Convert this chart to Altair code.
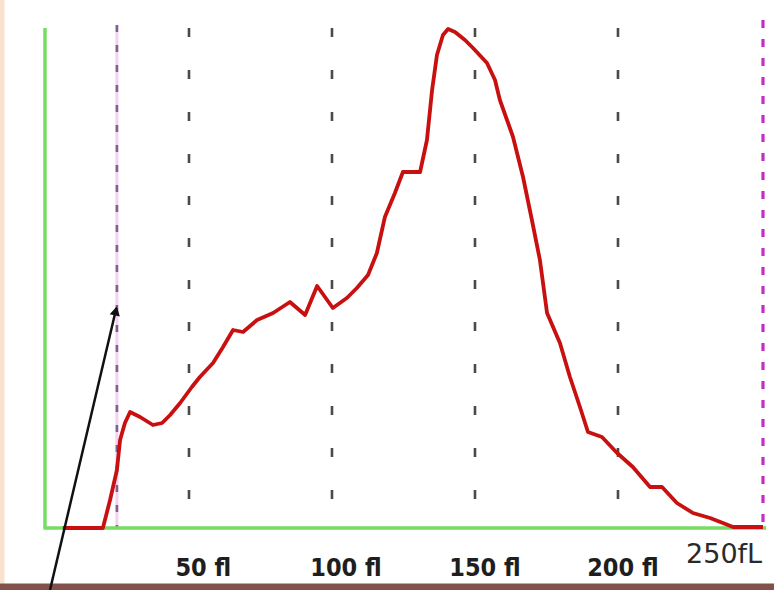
import altair as alt
import pandas as pd

# Histogram curve (volume in fL, relative count 0-100)
vol = [5.9, 19.9, 22.4, 24.8, 25.9, 27.6, 29.4, 32.9, 37.4, 40.6, 43.4, 46.9, 51.0, 53.8,
       58.4, 61.9, 65.4, 68.9, 73.8, 79.4, 85.3, 90.6, 94.8, 100.3, 105.2, 108.7, 112.6,
       115.7, 118.5, 122.0, 124.8, 130.8, 133.2, 135.0, 136.7, 138.8, 140.6, 143.0, 146.5,
       149.3, 154.2, 157.0, 158.7, 161.2, 163.3, 166.8, 169.9, 172.7, 175.2, 179.7, 183.2,
       186.7, 189.5, 194.4, 199.7, 205.2, 211.2, 215.4, 220.6, 226.2, 232.2, 236.7, 240.2, 250.7]
count = [0, 0, 5.6, 11.6, 17.6, 21, 23.2, 22.2, 20.6, 21, 22.6, 25, 28.2, 30.2,
         33, 36.2, 39.6, 39.2, 41.6, 43, 45.2, 42.6, 48.4, 44, 46, 48, 50.6,
         55, 62.2, 67, 71.2, 71.2, 77.6, 87.6, 94.6, 98.6, 99.8, 99.2, 97.6,
         96, 93, 89.6, 85.6, 81.6, 78.2, 70.2, 61.6, 53.6, 43, 37, 30.2,
         24.2, 19.2, 18.2, 15, 12.2, 8.2, 8.2, 5, 3, 2, 1, 0.2, 0.2]

grid_vals = [50, 100, 150, 200]
tick_labels = ["50 fl", "100 fl", "150 fl", "200 fl"]
tick_label_pos = [55.0, 104.9, 153.5, 201.7]
end_label = "250fL"
discriminators = [24.8, 250.7]

XD = [-16.08, 254.55]
YD = [-12.4, 105.6]
xs = alt.Scale(domain=XD, nice=False, zero=False)
ys = alt.Scale(domain=YD, nice=False, zero=False)

def X(f="x", **kw):
    return alt.X(f, type="quantitative", scale=xs, axis=None, **kw)

def Y(f="y", **kw):
    return alt.Y(f, type="quantitative", scale=ys, axis=None, **kw)

curve = pd.DataFrame({"x": vol, "y": count})

# background pieces
beige = alt.Chart(pd.DataFrame({"x": [XD[0]], "x2": [-14.5], "y": [YD[0]], "y2": [YD[1]]})).mark_rect(
    color="#f8e2cf").encode(x=X(), x2="x2", y=Y(), y2="y2")
brown = alt.Chart(pd.DataFrame({"x": [XD[0]], "x2": [XD[1]], "y": [YD[0]], "y2": [-11.1]})).mark_rect(
    color="#84504a").encode(x=X(), x2="x2", y=Y(), y2="y2")

grid = alt.Chart(pd.DataFrame({"x": grid_vals, "y": [100] * 4, "y2": [5.0] * 4})).mark_rule(
    color="#4a4a4a", strokeWidth=2.6, strokeDash=[9, 33]).encode(x=X(), y=Y(), y2="y2")

disc_df = pd.DataFrame({"x": discriminators, "y": [100.6, 101.6], "y2": [0.0, 1.0]})
left_bg = alt.Chart(disc_df.iloc[[0]]).mark_rule(color="#f5d0f2", strokeWidth=3).encode(
    x=X(), y=Y(), y2="y2")
left_d = alt.Chart(disc_df.iloc[[0]]).mark_rule(color="#7d6290", strokeWidth=2.6, strokeDash=[7, 13]).encode(
    x=X(), y=Y(), y2="y2")
right_d = alt.Chart(disc_df.iloc[[1]]).mark_rule(color="#c62cc6", strokeWidth=3.2, strokeDash=[8, 11]).encode(
    x=X(), y=Y(), y2="y2")

green_y = alt.Chart(pd.DataFrame({"x": [-0.35], "y": [100.0], "y2": [0.0]})).mark_rule(
    color="#74dd62", strokeWidth=3.5).encode(x=X(), y=Y(), y2="y2")
green_x = alt.Chart(pd.DataFrame({"x": [-0.9], "x2": [251.8], "y": [0.0]})).mark_rule(
    color="#74dd62", strokeWidth=3.5).encode(x=X(), x2="x2", y=Y())

line = alt.Chart(curve).mark_line(color="#c81010", strokeWidth=3.8, strokeJoin="round").encode(
    x=X(), y=Y(), order=alt.Order("x:Q"))

labels = alt.Chart(pd.DataFrame({"x": tick_label_pos, "y": [-9.5] * 4, "t": tick_labels})).mark_text(
    font="Liberation Sans Narrow, DejaVu Sans Condensed, sans-serif", fontWeight="bold", fontSize=25,
    color="#1e1e1e", align="center", baseline="alphabetic").encode(x=X(), y=Y(), text="t:N")
end_lab = alt.Chart(pd.DataFrame({"x": [237.1], "y": [-7.0], "t": [end_label]})).mark_text(
    font="DejaVu Sans, sans-serif", fontSize=27, color="#2a2a2a", align="center",
    baseline="alphabetic").encode(x=X(), y=Y(), text="t:N")

arrow = alt.Chart(pd.DataFrame({"x": [1.4], "x2": [24.6], "y": [-12.4], "y2": [44.0]})).mark_rule(
    color="#111111", strokeWidth=2.5).encode(x=X(), x2="x2", y=Y(), y2="y2")
head = alt.Chart(pd.DataFrame({"x": [24.4], "y": [43.4]})).mark_point(
    shape="triangle-up", filled=True, color="#111111", size=110, angle=13, opacity=1).encode(x=X(), y=Y())

chart = alt.layer(beige, brown, grid, left_bg, left_d, right_d, green_y, green_x, line,
                  labels, end_lab, arrow, head).properties(
    width=774, height=590, autosize=alt.AutoSizeParams(type="none"), padding=0,
    background="white").configure_view(stroke=None)

chart.save("out.html", embed_options={"renderer": "svg", "actions": False})
